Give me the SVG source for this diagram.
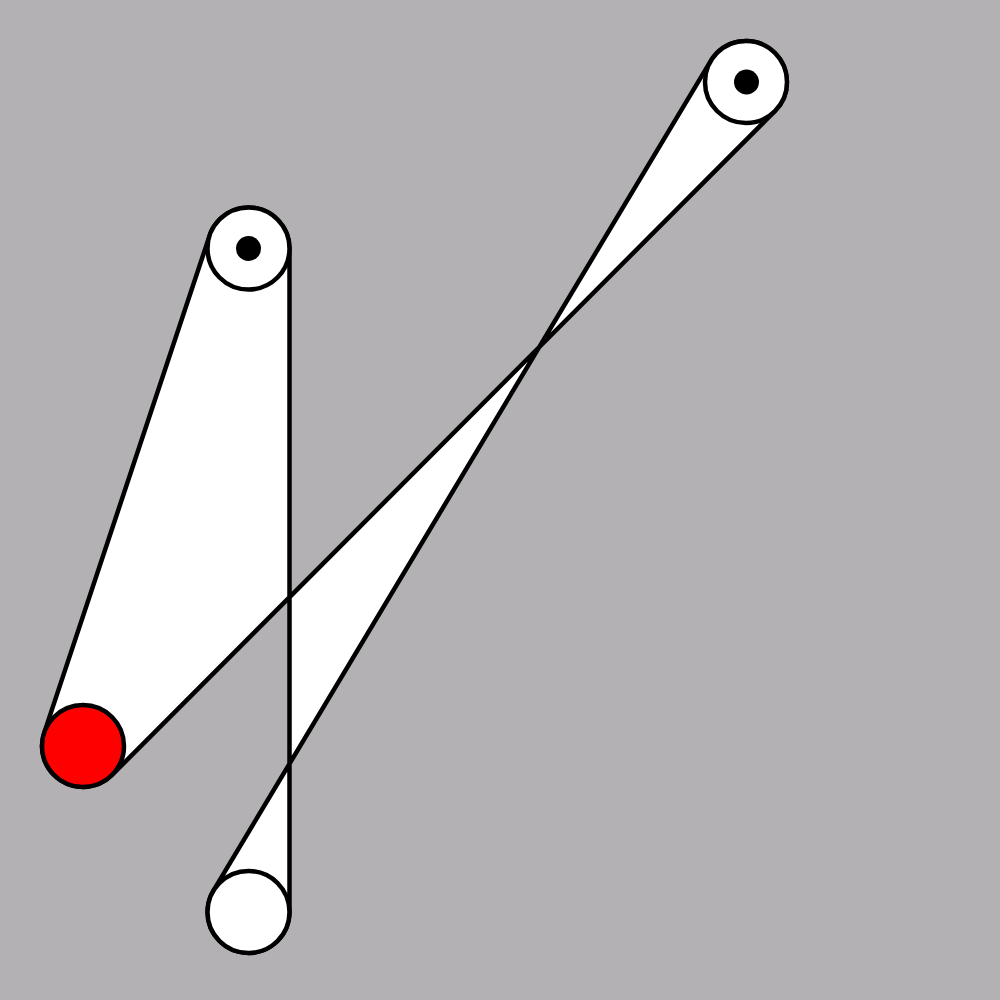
<svg xmlns="http://www.w3.org/2000/svg" width="1000" height="1000" viewBox="0 0 1000 1000">
  <style>
    .belt { fill: #ffffff; stroke: #000000; stroke-width: 4.5; stroke-linejoin: round; }
    .pulley { fill: #ffffff; stroke: #000000; stroke-width: 4.5; }
    .driver { fill: #ff0000; stroke: #000000; stroke-width: 4.5; }
    .axle { fill: #000000; }
  </style>
  <rect x="0" y="0" width="1000" height="1000" fill="#b3b1b4"/>
  <g id="connectors">
    <path class="belt" d="M 209.6 235.6 L 44.1 733.1 A 41 41 0 0 0 112 775 L 775 111 A 41 41 0 1 0 710.8 60.9 L 213.3 890.9 A 41 41 0 1 0 289.5 912 L 289.5 248.5 A 41 41 0 0 0 209.6 235.6 Z"/>
  </g>
  <g id="pulley-a">
    <circle class="pulley" cx="248.5" cy="248.5" r="41"/>
    <circle class="axle" cx="248.5" cy="248.5" r="12.5"/>
  </g>
  <g id="pulley-b">
    <circle class="pulley" cx="746" cy="82" r="41"/>
    <circle class="axle" cx="746.5" cy="82" r="12.5"/>
  </g>
  <g id="pulley-driver">
    <circle class="driver" cx="83" cy="746" r="41"/>
  </g>
  <g id="pulley-d">
    <circle class="pulley" cx="248.5" cy="912" r="41"/>
  </g>
</svg>
